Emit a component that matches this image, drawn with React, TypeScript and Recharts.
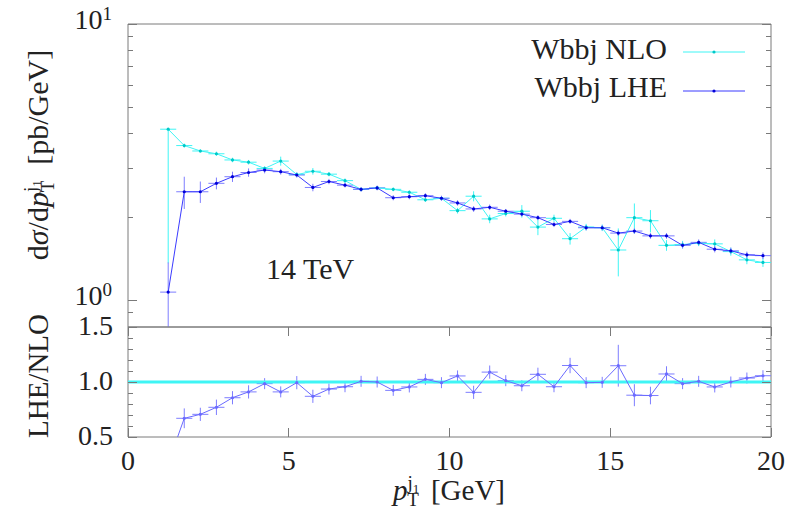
import { ComposedChart, ErrorBar, Legend, ReferenceArea, Scatter, XAxis, YAxis } from "recharts";

// bin centres of the pT histogram (0.5 GeV bins)
const ptBins = [
  1.25, 1.75, 2.25, 2.75, 3.25, 3.75, 4.25, 4.75, 5.25, 5.75, 6.25, 6.75, 7.25,
  7.75, 8.25, 8.75, 9.25, 9.75, 10.25, 10.75, 11.25, 11.75, 12.25, 12.75, 13.25,
  13.75, 14.25, 14.75, 15.25, 15.75, 16.25, 16.75, 17.25, 17.75, 18.25, 18.75,
  19.25, 19.75,
];
const binHalf = 0.25;

const nloValues = [
  4.16, 3.63, 3.47, 3.39, 3.22, 3.16, 3.0, 3.19, 2.85, 2.93, 2.86, 2.71, 2.52,
  2.55, 2.52, 2.46, 2.31, 2.34, 2.11, 2.38, 1.97, 2.06, 2.1, 1.84, 1.98, 1.67,
  1.84, 1.83, 1.52, 1.99, 1.94, 1.58, 1.59, 1.61, 1.6, 1.5, 1.4, 1.37,
];
const nloErr = [
  [2.8, 0], 0.06, 0.05, 0.06, 0.06, 0.06, 0.05, 0.12, 0.05, 0.08, 0.05, 0.05,
  0.04, 0.04, 0.04, 0.04, 0.04, 0.04, 0.05, 0.1, 0.07, 0.05, 0.11, 0.12, 0.06,
  0.08, 0.05, 0.05, 0.3, 0.25, 0.18, 0.07, 0.05, 0.04, 0.06, 0.05, 0.05, 0.05,
];

const lheValues = [
  1.07, 2.47, 2.47, 2.65, 2.8, 2.9, 2.96, 2.92, 2.84, 2.56, 2.69, 2.61, 2.52,
  2.55, 2.35, 2.37, 2.39, 2.34, 2.25, 2.14, 2.17, 2.1, 2.05, 1.99, 1.88, 1.93,
  1.83, 1.83, 1.75, 1.78, 1.71, 1.71, 1.58, 1.62, 1.53, 1.51, 1.46, 1.45,
];
const lheErr = [
  [0.27, 0.3], 0.33, 0.22, 0.13, 0.12, 0.1, 0.08, 0.07, 0.06, 0.08, 0.06, 0.05,
  0.05, 0.05, 0.05, 0.05, 0.05, 0.05, 0.05, 0.05, 0.05, 0.04, 0.04, 0.04, 0.04,
  0.04, 0.04, 0.04, 0.04, 0.04, 0.04, 0.04, 0.04, 0.04, 0.04, 0.04, 0.04, 0.04,
];

const ratioValues = [
  0.26, 0.67, 0.706, 0.77, 0.857, 0.91, 0.985, 0.91, 0.994, 0.87, 0.936, 0.957,
  1.006, 1.0, 0.924, 0.955, 1.024, 0.994, 1.055, 0.906, 1.09, 1.012, 0.966, 1.07,
  0.957, 1.15, 0.994, 0.997, 1.148, 0.88, 0.877, 1.073, 0.985, 1.006, 0.955, 1.0,
  1.036, 1.057,
];
const ratioErr = [
  0.1, 0.09, 0.06, 0.07, 0.06, 0.06, 0.05, 0.05, 0.06, 0.06, 0.05, 0.05, 0.05,
  0.05, 0.05, 0.05, 0.05, 0.05, 0.05, 0.06, 0.06, 0.05, 0.05, 0.06, 0.05, 0.07,
  0.05, 0.05, 0.19, 0.1, 0.08, 0.07, 0.05, 0.05, 0.05, 0.05, 0.05, 0.05,
];

const seriesNames = ["Wbbj NLO", "Wbbj LHE"];
const xTicks = [0, 5, 10, 15, 20];
const logTicks = [0.9, 1, 2, 3, 4, 5, 6, 7, 8, 9, 10];
const ratioTicks = [0.5, 0.6, 0.7, 0.8, 0.9, 1.0, 1.1, 1.2, 1.3, 1.4, 1.5];
const unityLine = [
  { x: 0, y: 1 },
  { x: 20, y: 1 },
];

const FONT = '"Liberation Serif", "DejaVu Serif", serif';
const TEXT = "#222";
const FRAME = "#7a7a7a";
const CYAN = "#3ff5f5";
const CYAN_DOT = "#00c8c8";
const BLUE = "#3b3bff";
const BLUE_ERR = "#7d7dff";
const BLUE_DOT = "#0000d8";
const RATIO = "#6a6aff";
const PLOT_W = 643;
const LOW_H = 110;

// error bars of points that fall below the panel are left out (gnuplot clips them)
const toPoints = (vals: number[], errs: any[], floor = 0) =>
  ptBins.map((x, i) => {
    const inside = vals[i] >= floor;
    return { x, y: vals[i], ex: inside ? binHalf : null, ey: inside ? errs[i] : null };
  });

const nloPts = toPoints(nloValues, nloErr);
const lhePts = toPoints(lheValues, lheErr);
const ratioPts = toPoints(ratioValues, ratioErr, 0.5);

const dot = (fill: string) => (p: any) =>
  <circle cx={p.cx} cy={p.cy} r={1.6} fill={fill} />;

function LogTick({ x, y, payload }: any) {
  const v = payload.value;
  const major = v === 1 || v === 10;
  const len = major ? 9 : 5;
  return (
    <g shapeRendering="crispEdges">
      <line x1={x} x2={x + len} y1={y} y2={y} stroke={FRAME} />
      <line x1={x + PLOT_W - len} x2={x + PLOT_W} y1={y} y2={y} stroke={FRAME} />
      {major && (
        <text x={x - 16} y={y + 5} textAnchor="end" fontFamily={FONT} fontSize={28} fill={TEXT}>
          10
          <tspan dy={-9} fontSize={19}>{v === 1 ? "0" : "1"}</tspan>
        </text>
      )}
    </g>
  );
}

function RatioTick({ x, y, payload }: any) {
  const v = payload.value;
  const major = Math.abs(v * 2 - Math.round(v * 2)) < 1e-6;
  const len = major ? 9 : 5;
  return (
    <g shapeRendering="crispEdges">
      <line x1={x} x2={x + len} y1={y} y2={y} stroke={FRAME} />
      <line x1={x + PLOT_W - len} x2={x + PLOT_W} y1={y} y2={y} stroke={FRAME} />
      {major && (
        <text x={x - 15} y={y + 8} textAnchor="end" fontFamily={FONT} fontSize={28} fill={TEXT}>
          {v.toFixed(1)}
        </text>
      )}
    </g>
  );
}

function XTick({ x, y, payload }: any) {
  return (
    <g shapeRendering="crispEdges">
      <line x1={x} x2={x} y1={y} y2={y - 9} stroke={FRAME} />
      <line x1={x} x2={x} y1={y - LOW_H} y2={y - LOW_H + 9} stroke={FRAME} />
      <text x={x} y={y + 33} textAnchor="middle" fontFamily={FONT} fontSize={28} fill={TEXT}>
        {payload.value}
      </text>
    </g>
  );
}

function LegendBox() {
  const colors = [
    [CYAN, CYAN_DOT],
    [BLUE, BLUE_DOT],
  ];
  return (
    <svg width={260} height={90}>
      {seriesNames.map((name, i) => (
        <g key={name}>
          <text x={167} y={39 + i * 38} textAnchor="end" fontFamily={FONT} fontSize={30} fill={TEXT}>
            {name}
          </text>
          <line x1={183} x2={245} y1={32 + i * 39} y2={32 + i * 39} stroke={colors[i][0]} />
          <circle cx={214} cy={32 + i * 39} r={1.6} fill={colors[i][1]} />
        </g>
      ))}
    </svg>
  );
}

function Annotations() {
  return (
    <svg
      width={802}
      height={513}
      style={{ position: "absolute", left: 0, top: 0, pointerEvents: "none" }}
      fontFamily={FONT}
      fill={TEXT}
    >
      <text x={266} y={279} fontSize={30}>14 TeV</text>
      <text transform="translate(48,376) rotate(-90)" textAnchor="middle" fontSize={29}>
        LHE/NLO
      </text>
      <text transform="translate(48,155) rotate(-90)" textAnchor="middle" fontSize={30}>
        d<tspan fontStyle="italic">σ</tspan>/d<tspan fontStyle="italic">p</tspan>
        <tspan dy={-11} fontSize={19}>j</tspan>
        <tspan dy={4} fontSize={13}>1</tspan>
        <tspan dx={-12} dy={13} fontSize={19}>T</tspan>
        <tspan dx={16} dy={-6}>[pb/GeV]</tspan>
      </text>
      <text x={449} y={500} textAnchor="middle" fontSize={29}>
        <tspan fontStyle="italic">p</tspan>
        <tspan dy={-11} fontSize={19}>j</tspan>
        <tspan dy={4} fontSize={13}>1</tspan>
        <tspan dx={-12} dy={13} fontSize={19}>T</tspan>
        <tspan dx={12} dy={-6}>[GeV]</tspan>
      </text>
    </svg>
  );
}

export default function App() {
  return (
    <div style={{ position: "absolute", left: 0, top: 0, width: 802, height: 513, background: "#fff" }}>
      <div style={{ position: "absolute", left: 0, top: 0 }}>
        <ComposedChart width={802} height={330} margin={{ top: 24, right: 31, bottom: 3, left: 68 }}>
          <XAxis type="number" dataKey="x" domain={[0, 20]} allowDataOverflow hide />
          <YAxis
            type="number"
            dataKey="y"
            scale="log"
            domain={[0.8, 10]}
            ticks={logTicks}
            interval={0}
            allowDataOverflow
            width={60}
            axisLine={false}
            tickLine={false}
            tickSize={0}
            tickMargin={0}
            tick={<LogTick />}
          />
          <ReferenceArea x1={0} x2={20} y1={0.8} y2={10} fill="none" stroke={FRAME} ifOverflow="visible" />
          <Scatter
            name={seriesNames[0]}
            data={nloPts}
            line={{ stroke: CYAN, strokeWidth: 1 }}
            shape={dot(CYAN_DOT)}
            isAnimationActive={false}
          >
            <ErrorBar dataKey="ey" direction="y" width={0} stroke={CYAN} strokeWidth={1} />
            <ErrorBar dataKey="ex" direction="x" width={0} stroke={CYAN} strokeWidth={1} />
          </Scatter>
          <Scatter
            name={seriesNames[1]}
            data={lhePts}
            line={{ stroke: BLUE, strokeWidth: 1 }}
            shape={dot(BLUE_DOT)}
            isAnimationActive={false}
          >
            <ErrorBar dataKey="ey" direction="y" width={0} stroke={BLUE_ERR} strokeWidth={1} />
            <ErrorBar dataKey="ex" direction="x" width={0} stroke={BLUE_ERR} strokeWidth={1} />
          </Scatter>
          <Legend
            layout="vertical"
            align="center"
            verticalAlign="middle"
            wrapperStyle={{ position: "absolute", left: 500, top: 20, width: 260, height: 90 }}
            content={() => <LegendBox />}
          />
        </ComposedChart>
      </div>
      <div style={{ position: "absolute", left: 0, top: 0 }}>
        <ComposedChart width={802} height={513} margin={{ top: 327, right: 31, bottom: 46, left: 68 }}>
          <XAxis
            type="number"
            dataKey="x"
            domain={[0, 20]}
            ticks={xTicks}
            interval={0}
            allowDataOverflow
            height={30}
            axisLine={false}
            tickLine={false}
            tickSize={0}
            tickMargin={0}
            tick={<XTick />}
          />
          <YAxis
            type="number"
            dataKey="y"
            domain={[0.5, 1.5]}
            ticks={ratioTicks}
            interval={0}
            allowDataOverflow
            width={60}
            axisLine={false}
            tickLine={false}
            tickSize={0}
            tickMargin={0}
            tick={<RatioTick />}
          />
          <ReferenceArea x1={0} x2={20} y1={0.5} y2={1.5} fill="none" stroke={FRAME} ifOverflow="visible" />
          <Scatter
            data={unityLine}
            line={{ stroke: CYAN, strokeWidth: 3 }}
            shape={() => <g />}
            isAnimationActive={false}
          />
          <Scatter
            data={ratioPts}
            line={{ stroke: RATIO, strokeWidth: 1 }}
            shape={dot(RATIO)}
            isAnimationActive={false}
          >
            <ErrorBar dataKey="ey" direction="y" width={0} stroke={BLUE_ERR} strokeWidth={1} />
            <ErrorBar dataKey="ex" direction="x" width={0} stroke={BLUE_ERR} strokeWidth={1} />
          </Scatter>
        </ComposedChart>
      </div>
      <Annotations />
    </div>
  );
}
